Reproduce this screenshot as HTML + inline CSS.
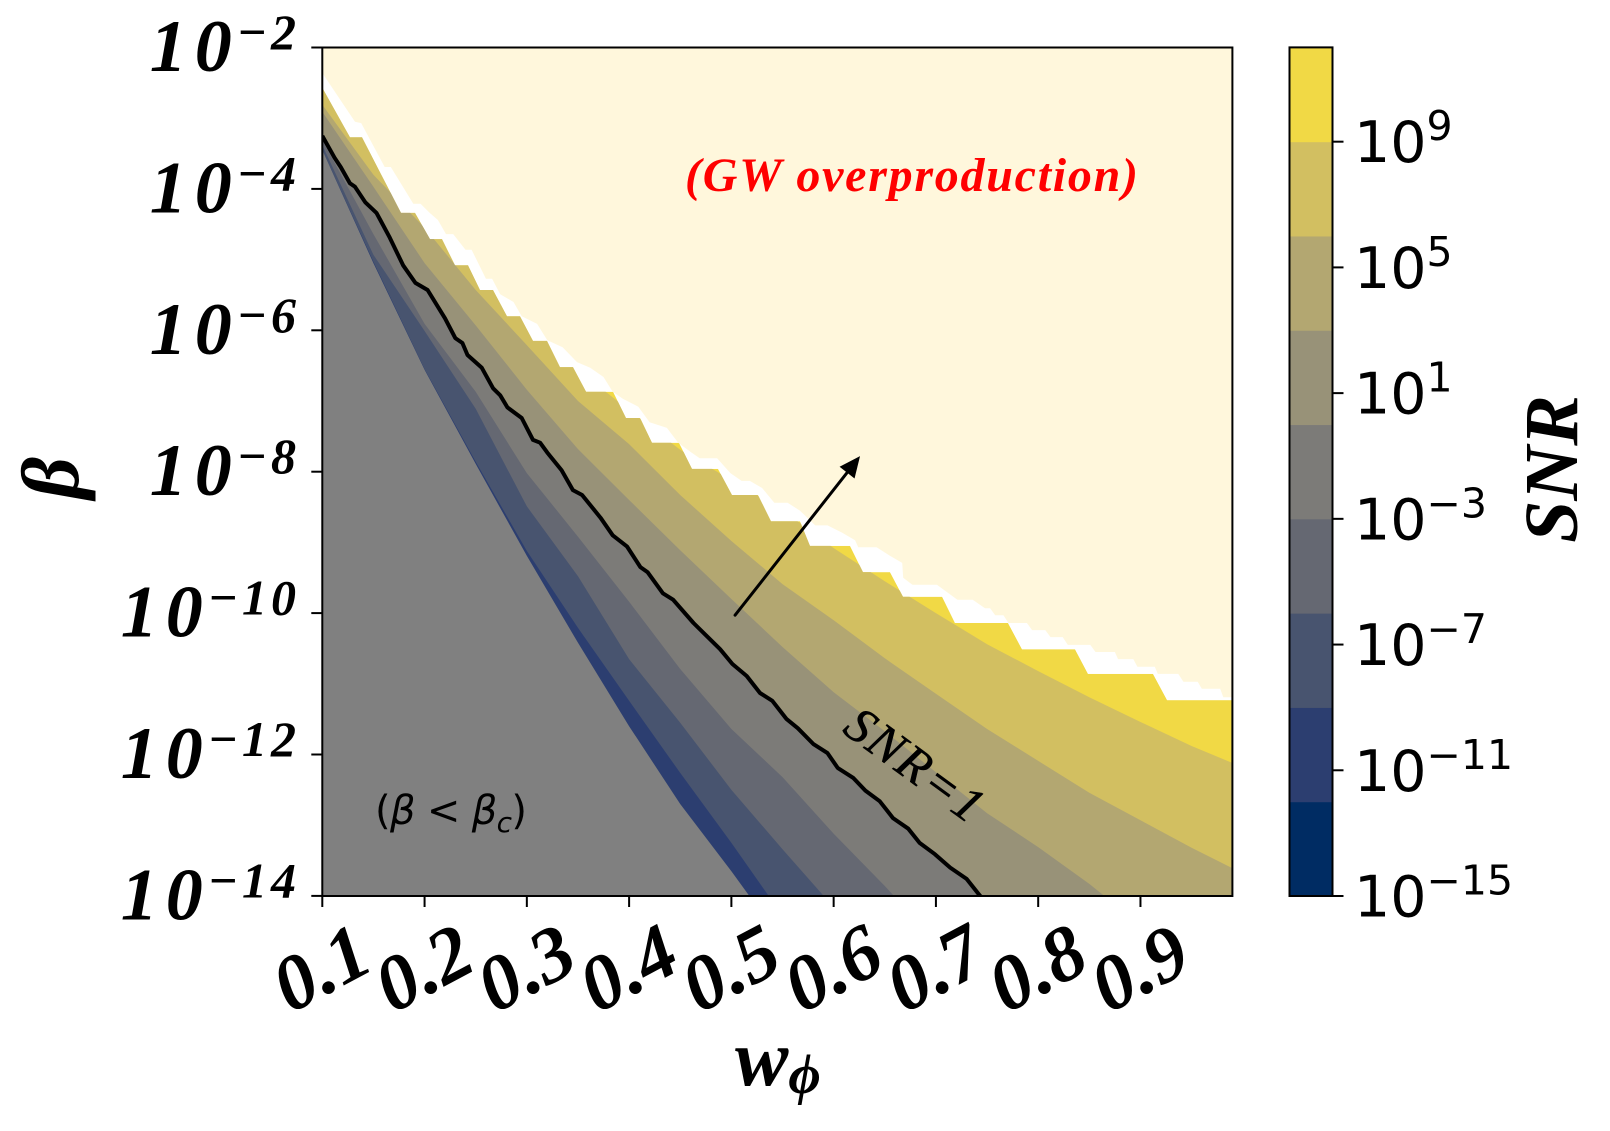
<!DOCTYPE html>
<html lang="en">
<head>
<meta charset="utf-8">
<title>SNR contour chart</title>
<style>
html,body{margin:0;padding:0;background:#fff;overflow:hidden;}
svg{display:block;}
text{fill:#000;}
.math{font-family:"Liberation Serif",serif;font-style:italic;font-weight:bold;}
.dv{font-family:"DejaVu Sans",sans-serif;}
</style>
</head>
<body>
<svg id="chart" xmlns="http://www.w3.org/2000/svg" width="1610" height="1131" viewBox="0 0 1610 1131">
  <defs>
    <clipPath id="plot-clip"><rect x="322.3" y="47.5" width="910.1" height="848.5"/></clipPath>
    <clipPath id="stair-clip"><polygon id="stair-poly" points="0,0"/></clipPath>
  </defs>
  <rect x="0" y="0" width="1610" height="1131" fill="#ffffff"/>
  <g id="plot-area" clip-path="url(#plot-clip)">
    <g id="bands" clip-path="url(#stair-clip)"></g>
    <polygon id="cream" fill="#fff7dc"/>
    <polyline id="snr-line" fill="none" stroke="#000" stroke-width="4" stroke-linejoin="round"/>
  </g>
  <g id="arrow"></g>
  <rect x="322.3" y="47.5" width="910.1" height="848.5" fill="none" stroke="#000" stroke-width="2"/>
  <g id="x-axis"></g>
  <g id="y-axis"></g>
  <g id="colorbar"></g>

  <text class="math" x="735" y="1085" font-size="80">w<tspan font-size="56" dy="8">ϕ</tspan></text>
  <text class="math" font-size="82" text-anchor="middle" transform="translate(78,478) rotate(-90)">β</text>
  <text class="math" font-size="76" text-anchor="middle" transform="translate(1577,469) rotate(-90)">SNR</text>
  <text x="685" y="191" font-family="'Liberation Serif',serif" font-style="italic" font-weight="bold" font-size="48" textLength="453" lengthAdjust="spacing" style="fill:#ff0000">(GW overproduction)</text>
  <text class="dv" x="375" y="824" font-size="40" textLength="152" lengthAdjust="spacing">(<tspan font-style="italic">β</tspan> &lt; <tspan font-style="italic">β</tspan><tspan font-style="italic" font-size="28" dy="8">c</tspan><tspan dy="-8">)</tspan></text>
  <text font-family="'Liberation Serif',serif" font-size="50" font-style="italic" stroke="#000" stroke-width="0.6" text-anchor="middle" textLength="158" lengthAdjust="spacing" transform="translate(905,778) rotate(36)">SNR=1</text>
</svg>
<script>
// ---------- data ----------
const xTicks = [0.1,0.2,0.3,0.4,0.5,0.6,0.7,0.8,0.9];
const xTickLabels = ['0.1','0.2','0.3','0.4','0.5','0.6','0.7','0.8','0.9'];
const yTicks = [-2,-4,-6,-8,-10,-12,-14];
const yTickLabels = ['−2','−4','−6','−8','−10','−12','−14'];
const cbarLevels = [-15,-12,-9,-6,-3,0,3,6,9,12];
const cbarTicks = [-15,-11,-7,-3,1,5,9];
const cbarTickLabels = ['−15','−11','−7','−3','1','5','9'];
const wGrid = [0.10,0.15,0.20,0.25,0.30,0.35,0.40,0.45,0.50,0.55,0.60,0.65,0.70,0.75,0.80,0.85,0.90,0.95,0.99];
const contourM12 = [-3.45,-5.05,-6.56,-7.89,-9.19,-10.42,-11.60,-12.70,-13.65,-14.65,-15.66,-16.6,-17.55,-18.5,-19.4,-20.4,-21.3,-22.2,-23.0];
const contourM9 = [-3.45,-5.03,-6.55,-7.86,-9.12,-10.21,-11.24,-12.26,-13.25,-14.28,-15.26,-16.22,-17.18,-18.15,-19.11,-20.07,-21.03,-22.0,-22.76];
const contourM6 = [-3.38,-4.93,-6.01,-7.11,-8.49,-9.48,-10.65,-11.55,-12.50,-13.34,-14.16,-14.99,-15.83,-16.66,-17.50,-18.33,-19.16,-20.0,-20.67];
const contourM3 = [-3.31,-4.64,-5.91,-6.87,-8.02,-8.92,-9.84,-10.79,-11.64,-12.32,-13.12,-13.86,-14.65,-15.44,-16.23,-17.03,-17.82,-18.61,-19.26];
const contourP3 = [-2.91,-3.97,-5.05,-5.93,-6.84,-7.68,-8.40,-9.11,-9.80,-10.48,-11.12,-11.67,-12.25,-12.83,-13.31,-13.83,-14.41,-14.99,-15.44];
const contourP6 = [-2.81,-3.80,-4.55,-5.43,-6.21,-7.00,-7.61,-8.33,-8.98,-9.59,-10.10,-10.64,-11.14,-11.64,-12.09,-12.54,-12.93,-13.32,-13.61];
const contourP9 = [-2.18,-3.17,-4.16,-5.15,-5.85,-6.56,-7.13,-7.69,-8.12,-8.54,-9.08,-9.55,-10.0,-10.44,-10.82,-11.19,-11.54,-11.88,-12.12];
const snrOneW = [0.10,0.112,0.118,0.127,0.132,0.142,0.153,0.166,0.179,0.191,0.203,0.220,0.230,0.237,0.242,0.256,0.267,0.274,0.281,0.295,0.306,0.313,0.320,0.334,0.345,0.354,0.372,0.384,0.398,0.411,0.418,0.433,0.443,0.463,0.489,0.501,0.515,0.528,0.540,0.554,0.565,0.580,0.594,0.604,0.619,0.631,0.645,0.658,0.673,0.684,0.699,0.714,0.730,0.741,0.753,0.80,0.85,0.90,0.95,0.99];
const snrOneLog = [-3.25,-3.56,-3.69,-3.92,-3.97,-4.19,-4.34,-4.69,-5.08,-5.33,-5.43,-5.83,-6.11,-6.18,-6.35,-6.53,-6.82,-6.92,-7.09,-7.24,-7.55,-7.59,-7.73,-7.98,-8.26,-8.33,-8.65,-8.90,-9.06,-9.35,-9.42,-9.72,-9.81,-10.14,-10.51,-10.72,-10.89,-11.13,-11.24,-11.50,-11.63,-11.85,-11.98,-12.19,-12.33,-12.51,-12.66,-12.90,-13.05,-13.25,-13.41,-13.60,-13.76,-13.96,-14.17,-14.8,-15.5,-16.2,-16.9,-17.5];
const stairW = [0.10,0.1271,0.1388,0.1770,0.1906,0.2053,0.2170,0.2298,0.2425,0.2542,0.2669,0.2806,0.2933,0.3060,0.3197,0.3324,0.3451,0.3579,0.3843,0.3970,0.4107,0.4224,0.4488,0.4615,0.4869,0.5006,0.5260,0.5387,0.5671,0.5769,0.6160,0.6287,0.6551,0.6678,0.7060,0.7187,0.7705,0.7842,0.8360,0.8487,0.9123,0.9260,0.9896];
const stairLog = [-2.57,-3.27,-3.27,-4.34,-4.34,-4.71,-4.71,-5.08,-5.08,-5.43,-5.43,-5.80,-5.80,-6.15,-6.15,-6.52,-6.52,-6.87,-6.87,-7.24,-7.24,-7.59,-7.59,-7.96,-7.96,-8.33,-8.33,-8.70,-8.70,-9.05,-9.05,-9.42,-9.42,-9.77,-9.77,-10.14,-10.14,-10.51,-10.51,-10.86,-10.86,-11.23,-11.23];
const creamW = [0.10,0.132,0.138,0.161,0.167,0.189,0.196,0.205,0.213,0.221,0.228,0.240,0.246,0.260,0.266,0.274,0.287,0.295,0.310,0.320,0.335,0.349,0.362,0.375,0.384,0.394,0.409,0.420,0.437,0.448,0.460,0.469,0.486,0.499,0.510,0.518,0.530,0.542,0.555,0.567,0.582,0.594,0.608,0.621,0.624,0.642,0.655,0.667,0.668,0.677,0.701,0.721,0.736,0.748,0.753,0.758,0.766,0.771,0.789,0.794,0.807,0.812,0.824,0.829,0.851,0.856,0.875,0.878,0.893,0.897,0.914,0.917,0.937,0.942,0.956,0.960,0.978,0.981,0.990];
const creamLog = [-2.36,-3.05,-3.07,-3.69,-3.69,-4.21,-4.21,-4.34,-4.44,-4.64,-4.64,-4.86,-4.86,-5.27,-5.27,-5.49,-5.60,-5.80,-5.91,-6.14,-6.24,-6.45,-6.53,-6.66,-6.87,-6.97,-7.08,-7.30,-7.38,-7.59,-7.72,-7.81,-7.81,-8.02,-8.13,-8.13,-8.23,-8.44,-8.44,-8.55,-8.76,-8.76,-8.86,-8.97,-9.07,-9.07,-9.19,-9.29,-9.50,-9.60,-9.60,-9.81,-9.81,-9.93,-9.93,-10.03,-10.03,-10.14,-10.14,-10.24,-10.24,-10.34,-10.34,-10.45,-10.45,-10.55,-10.55,-10.65,-10.65,-10.76,-10.76,-10.86,-10.86,-10.97,-10.97,-11.07,-11.07,-11.19,-11.19];
const arrowW = [0.5036,0.6258];
const arrowLog = [-10.03,-7.78];

// ---------- axis functions ----------
const NS = 'http://www.w3.org/2000/svg';
const yTop = 47.5, yBot = 896, xLeft = 322.3, xRight = 1232.4, yLimit = 898;
const pxPerW = 1022.7, pxPerDecade = 70.7, cbarPerDecade = 31.43;
function xScale(w){ return xLeft + (w - 0.1) * pxPerW; }
function yScale(v){ return yTop + (-2 - v) * pxPerDecade; }
function cbarY(v){ return yBot - (v + 15) * cbarPerDecade; }
function mk(tag, attrs, parent){
  const el = document.createElementNS(NS, tag);
  for (const k in attrs) el.setAttribute(k, attrs[k]);
  if (parent) parent.appendChild(el);
  return el;
}
// Walks a contour in pixel space, stopping where it leaves the bottom of the plot.
function pts(ws, vs){
  const out = [];
  let px = null, py = null;
  for (let i = 0; i < ws.length; i++){
    const x = xScale(ws[i]), y = yScale(vs[i]);
    if (y > yLimit){
      if (px !== null){
        const t = (yLimit - py) / (y - py);
        out.push((px + t * (x - px)).toFixed(1) + ',' + yLimit);
      }
      break;
    }
    out.push(x.toFixed(1) + ',' + y.toFixed(1));
    px = x; py = y;
  }
  return out.join(' ');
}
const floorCorners = xRight + ',' + yLimit + ' ' + xLeft + ',' + yLimit;

// ---------- regions ----------
const stairPts = pts(stairW, stairLog) + ' ' + floorCorners;
document.getElementById('stair-poly').setAttribute('points', stairPts);

const bandsG = document.getElementById('bands');
const topBand = mk('polygon', {points: stairPts, fill: '#f1d945'}, bandsG);



function addBand(name, ws, vs, color){
  const p = mk('polygon', {points: pts(ws, vs) + ' ' + floorCorners, fill: color}, bandsG);
  
  
}
addBand('band-1e6-1e9', wGrid, contourP9, '#d2bf61');
addBand('band-1e3-1e6', wGrid, contourP6, '#b3a771');
addBand('band-1e0-1e3', wGrid, contourP3, '#989278');
addBand('band-1em3-1e0', snrOneW, snrOneLog, '#7c7b78');
addBand('band-1em6-1em3', wGrid, contourM3, '#656872');
addBand('band-1em9-1em6', wGrid, contourM6, '#48546f');
addBand('band-1em12-1em9', wGrid, contourM9, '#2c3e70');
addBand('below-critical-region', wGrid, contourM12, '#808080');

document.getElementById('cream').setAttribute('points',
  pts(creamW, creamLog) + ' ' + xRight + ',' + yTop + ' ' + xLeft + ',' + yTop);
document.getElementById('snr-line').setAttribute('points', pts(snrOneW, snrOneLog));

// ---------- arrow ----------
(function(){
  const g = document.getElementById('arrow');
  const x1 = xScale(arrowW[0]), y1 = yScale(arrowLog[0]);
  const x2 = xScale(arrowW[1]), y2 = yScale(arrowLog[1]);
  const a = Math.atan2(y2 - y1, x2 - x1), L = 21, H = 9.5;
  const bx = x2 - L * Math.cos(a), by = y2 - L * Math.sin(a);
  const shaft = mk('line', {x1: x1, y1: y1, x2: bx, y2: by, stroke: '#000', 'stroke-width': 3, 'stroke-linecap': 'round'}, g);
  
  
  const head = mk('polygon', {points: x2 + ',' + y2 + ' ' + (bx - H * Math.sin(a)) + ',' + (by + H * Math.cos(a)) + ' ' + (bx + H * Math.sin(a)) + ',' + (by - H * Math.cos(a)), fill: '#000'}, g);
  
  
})();

// ---------- x axis ----------
const xG = document.getElementById('x-axis');
xTicks.forEach(function(t, i){
  const x = xScale(t);
  const tk = mk('line', {x1: x, x2: x, y1: yBot, y2: yBot + 11, stroke: '#000', 'stroke-width': 2}, xG);
  
  
  const lb = mk('text', {class: 'math', 'font-size': 78, 'text-anchor': 'middle', transform: 'translate(' + (x - 1) + ',968) rotate(-28)', y: 26}, xG);
  lb.textContent = xTickLabels[i];
  
  
});

// ---------- y axis ----------
const yG = document.getElementById('y-axis');
yTicks.forEach(function(t, i){
  const y = yScale(t);
  const tk = mk('line', {x1: xLeft - 11, x2: xLeft, y1: y, y2: y, stroke: '#000', 'stroke-width': 2}, yG);
  
  
  const lb = mk('text', {class: 'math', 'font-size': 74, 'text-anchor': 'end', x: 300, y: y + 23.5}, yG);
  
  
  const base = mk('tspan', {'letter-spacing': 8}, lb);
  base.textContent = '10';
  const exp = mk('tspan', {'font-size': 50, dy: -22, dx: -3, 'letter-spacing': 4}, lb);
  exp.textContent = yTickLabels[i];
});

// ---------- colorbar ----------
const cG = document.getElementById('colorbar');
const cbarColors = ['#002c63','#2c3e70','#48546f','#656872','#7c7b78','#989278','#b3a771','#d2bf61','#f1d945'];
const cbLeft = 1289.5, cbRight = 1332.5;
cbarColors.forEach(function(c, i){
  const yA = cbarY(cbarLevels[i + 1]), yB = cbarY(cbarLevels[i]);
  const r = mk('rect', {x: cbLeft, y: yA, width: cbRight - cbLeft, height: yB - yA + 0.5, fill: c}, cG);
  
  
});
const cbFrame = mk('rect', {x: cbLeft, y: cbarY(12), width: cbRight - cbLeft, height: yBot - cbarY(12), fill: 'none', stroke: '#000', 'stroke-width': 2}, cG);


cbarTicks.forEach(function(t, i){
  const y = cbarY(t);
  const tk = mk('line', {x1: cbRight, x2: cbRight + 11, y1: y, y2: y, stroke: '#000', 'stroke-width': 2}, cG);
  
  
  const lb = mk('text', {class: 'dv', 'font-size': 57, x: 1354, y: y + 20.5}, cG);
  
  
  const base = mk('tspan', {}, lb);
  base.textContent = '10';
  const exp = mk('tspan', {'font-size': 41, dy: -22}, lb);
  exp.textContent = cbarTickLabels[i];
});
</script>
</body>
</html>
